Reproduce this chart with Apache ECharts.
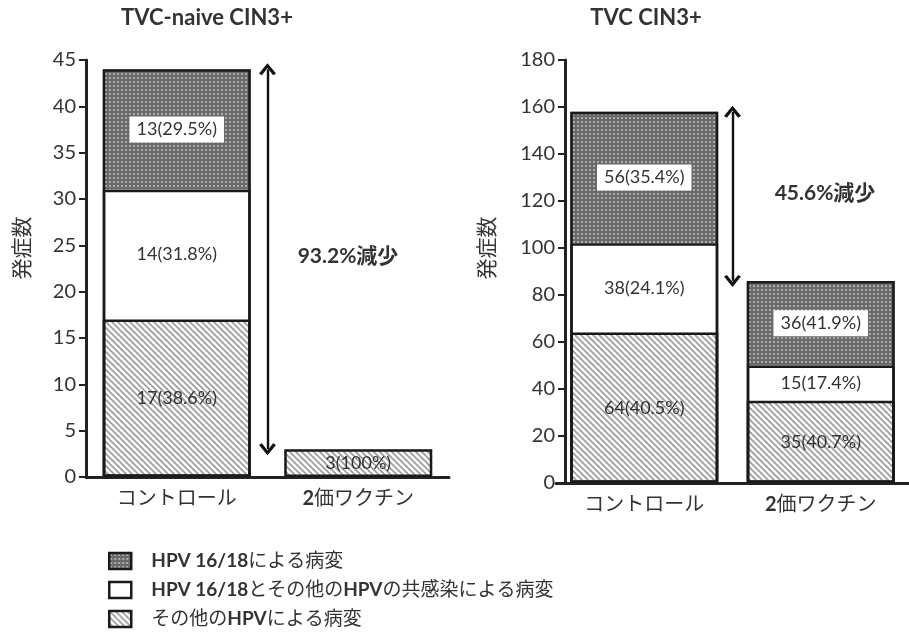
<!DOCTYPE html>
<html>
<head>
<meta charset="utf-8">
<script src="https://cdn.jsdelivr.net/npm/echarts@6/dist/echarts.min.js"></script>
<style>
  html, body { margin: 0; padding: 0; background: #fff; }
  #chart { width: 909px; height: 639px; }
</style>
</head>
<body>
<div id="chart"></div>
<script>
const FONT = 'Lato, "Noto Sans CJK JP", sans-serif';

const panelTitles = ['TVC-naive CIN3+', 'TVC CIN3+'];
const categories = ['コントロール', '2価ワクチン'];
const seriesNames = [
  'その他のHPVによる病変',
  'HPV 16/18とその他のHPVの共感染による病変',
  'HPV 16/18による病変'
];
const reductions = ['93.2%減少', '45.6%減少'];
const yMax = [45, 180];
const yStep = [5, 20];
const yName = '発症数';

// TVC-naive CIN3+
const naiveOther = [17, 3];
const naiveCoinf = [14, 0];
const naive1618 = [13, 0];
const naiveOtherPct = ['38.6%', '100%'];
const naiveCoinfPct = ['31.8%', ''];
const naive1618Pct = ['29.5%', ''];

// TVC CIN3+
const tvcOther = [64, 35];
const tvcCoinf = [38, 15];
const tvc1618 = [56, 36];
const tvcOtherPct = ['40.5%', '40.7%'];
const tvcCoinfPct = ['24.1%', '17.4%'];
const tvc1618Pct = ['35.4%', '41.9%'];

// fill patterns
function hatchPattern() {
  const c = document.createElement('canvas');
  c.width = c.height = 6;
  const g = c.getContext('2d');
  g.fillStyle = '#fff';
  g.fillRect(0, 0, 6, 6);
  g.strokeStyle = '#9a9a9a';
  g.lineWidth = 1.6;
  g.beginPath();
  g.moveTo(-1, -1); g.lineTo(7, 7);
  g.moveTo(-1, 5); g.lineTo(1, 7);
  g.moveTo(5, -1); g.lineTo(7, 1);
  g.stroke();
  return { image: c, repeat: 'repeat' };
}
function dotPattern() {
  const c = document.createElement('canvas');
  c.width = c.height = 4;
  const g = c.getContext('2d');
  g.fillStyle = '#6a6a6a';
  g.fillRect(0, 0, 4, 4);
  g.fillStyle = '#ababab';
  g.fillRect(1, 1, 2, 2);
  return { image: c, repeat: 'repeat' };
}
const fills = [hatchPattern(), '#fff', dotPattern()];

const panels = [
  { vals: [naiveOther, naiveCoinf, naive1618], pcts: [naiveOtherPct, naiveCoinfPct, naive1618Pct] },
  { vals: [tvcOther, tvcCoinf, tvc1618], pcts: [tvcOtherPct, tvcCoinfPct, tvc1618Pct] }
];

const grids = [
  { left: 86, top: 60, width: 363, height: 417 },
  { left: 556, top: 60, width: 363, height: 423 }
];

// chevron arrow head
const ARROW = 'path://M0,8.6 L5,0 L10,8.6 L8.3,10 L5,4 L1.7,10 Z';

const xAxes = [];
const yAxes = [];
const series = [];

panels.forEach((p, i) => {
  xAxes.push({
    type: 'category', gridIndex: i, data: categories,
    axisLine: { lineStyle: { color: '#222', width: 3 } },
    axisTick: { show: false },
    axisLabel: {
      interval: 0, margin: 12, fontSize: 20, color: '#333', fontFamily: FONT,
      formatter: v => v.replace(/^(\d+)/, '{b|$1}'),
      rich: { b: { fontWeight: 'bold', fontSize: 20, color: '#333', fontFamily: FONT } }
    }
  });
  yAxes.push({
    type: 'value', gridIndex: i, min: 0, max: yMax[i], interval: yStep[i],
    offset: i === 1 ? -9 : 0,
    splitLine: { show: false },
    axisLine: { show: true, lineStyle: { color: '#222', width: 3 } },
    axisTick: { show: true, length: 7, lineStyle: { color: '#222', width: 2 } },
    axisLabel: { margin: 10, fontSize: 20, color: '#333', fontFamily: FONT }
  });
  // filled segments, no border
  p.vals.forEach((vals, k) => {
    const pct = p.pcts[k];
    series.push({
      name: seriesNames[k], type: 'bar', stack: 'p' + i,
      xAxisIndex: i, yAxisIndex: i, barWidth: 148, barGap: '-100%',
      data: vals.map(v => (v ? v : '-')),
      itemStyle: { color: fills[k], borderWidth: 0 },
      label: {
        show: true, position: 'inside', fontSize: 18, fontFamily: FONT, color: '#333',
        backgroundColor: k === 2 ? '#fff' : 'transparent',
        padding: k === 2 ? [4, 7] : 0,
        formatter: q => (vals[q.dataIndex] ? vals[q.dataIndex] + '(' + pct[q.dataIndex] + ')' : '')
      },
      z: 2,
      emphasis: { disabled: true }
    });
  });
  // outlines: one rectangle per cumulative level so the dividing lines are single
  p.vals.forEach((vals, k) => {
    const cum = categories.map((c, j) => (vals[j] ? p.vals.slice(0, k + 1).reduce((s, v) => s + v[j], 0) : '-'));
    series.push({
      name: 'outline' + i + k, type: 'bar',
      xAxisIndex: i, yAxisIndex: i, barWidth: 148, barGap: '-100%',
      data: cum, silent: true,
      itemStyle: { color: 'transparent', borderColor: '#1a1a1a', borderWidth: 2.5 },
      label: { show: false },
      z: 3,
      emphasis: { disabled: true }
    });
  });
});

// hidden value axes for the reduction arrows
panels.forEach((p, i) => {
  xAxes.push({ type: 'value', gridIndex: i, min: 0, max: 2, show: false });
  const totals = categories.map((c, j) => p.vals.reduce((s, v) => s + v[j], 0));
  series.push({
    name: 'arrow' + i, type: 'line', xAxisIndex: 2 + i, yAxisIndex: i,
    data: [[1, totals[0]], [1, totals[1]]],
    symbol: 'none', lineStyle: { opacity: 0 }, silent: true,
    markLine: {
      silent: true, symbol: [ARROW, ARROW], symbolSize: [17, 12],
      label: { show: false },
      lineStyle: { color: '#111', width: 2.4, type: 'solid' },
      data: [[{ coord: [1, totals[0]] }, { coord: [1, totals[1]] }]]
    }
  });
});

const option = {
  animation: false,
  backgroundColor: '#fff',
  grid: grids,
  xAxis: xAxes,
  yAxis: yAxes,
  series: series,
  legend: {
    data: [seriesNames[2], seriesNames[1], seriesNames[0]],
    orient: 'vertical', left: 108, top: 550, padding: 0,
    icon: 'rect',
    itemWidth: 22, itemHeight: 16, itemGap: 7,
    itemStyle: { borderColor: '#1a1a1a', borderWidth: 2.5 },
    selectedMode: false,
    textStyle: {
      fontSize: 19, color: '#333', fontFamily: FONT, padding: [0, 0, 0, 15], lineHeight: 22,
      rich: { b: { fontWeight: 'bold', fontSize: 19, color: '#333', fontFamily: FONT } }
    },
    formatter: n => n.replace(/(HPV(?: 16\/18)?)/g, '{b|$1}')
  },
  graphic: [
    { type: 'text', x: 207, y: 18, style: { text: panelTitles[0], font: 'bold 22px ' + FONT, fill: '#333', textAlign: 'center', textVerticalAlign: 'middle' } },
    { type: 'text', x: 646, y: 18, style: { text: panelTitles[1], font: 'bold 22px ' + FONT, fill: '#333', textAlign: 'center', textVerticalAlign: 'middle' } },
    { type: 'text', x: 22, y: 248, rotation: Math.PI / 2, style: { text: yName, font: '21px ' + FONT, fill: '#333', textAlign: 'center', textVerticalAlign: 'middle' } },
    { type: 'text', x: 487, y: 248, rotation: Math.PI / 2, style: { text: yName, font: '21px ' + FONT, fill: '#333', textAlign: 'center', textVerticalAlign: 'middle' } },
    { type: 'text', x: 348, y: 256, style: { text: reductions[0], font: 'bold 21px ' + FONT, fill: '#333', textAlign: 'center', textVerticalAlign: 'middle' } },
    { type: 'text', x: 825, y: 193, style: { text: reductions[1], font: 'bold 21px ' + FONT, fill: '#333', textAlign: 'center', textVerticalAlign: 'middle' } }
  ]
};

const chart = echarts.init(document.getElementById('chart'));
chart.setOption(option);
</script>
</body>
</html>
